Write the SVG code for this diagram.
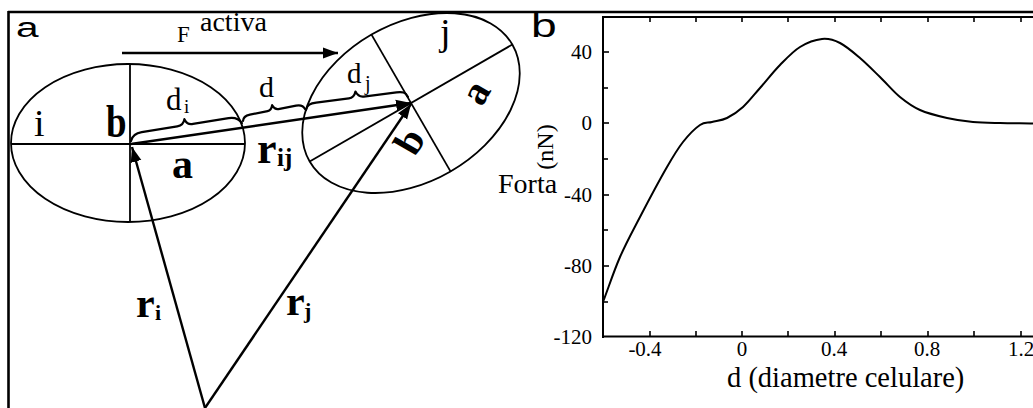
<svg xmlns="http://www.w3.org/2000/svg" width="1033" height="408" viewBox="0 0 1033 408">
<style>
.serif{font-family:"Liberation Serif","Times New Roman",serif;fill:#000}
.bold{font-weight:bold}
.sans{font-family:"Liberation Sans",Arial,sans-serif;fill:#000}
.ln{stroke:#000;stroke-width:2;fill:none}
.thin{stroke:#000;stroke-width:1.8;fill:none}
.arr{stroke:#000;stroke-width:2.4;fill:none;marker-end:url(#ah)}
.brace{stroke:#000;stroke-width:2.2;fill:none;stroke-linejoin:round;stroke-linecap:round}
.tick{stroke:#000;stroke-width:1.6}
.tl{font-size:21px}
</style>
<defs>
<marker id="ah" markerUnits="userSpaceOnUse" markerWidth="16" markerHeight="12" refX="15" refY="6" orient="auto">
<path d="M0,0.5 L15,6 L0,11.5 z" fill="#000"/>
</marker>
</defs>
<rect width="1033" height="408" fill="#fff"/>
<g id="frame">
<line x1="8" y1="12" x2="1033" y2="12" stroke="#000" stroke-width="2.4"/>
<line x1="8.5" y1="11" x2="8.5" y2="408" stroke="#000" stroke-width="2.6"/>
</g>
<g id="panel-label-a"><text class="sans" font-size="28" transform="translate(16,37) scale(1.45,1)">a</text></g>
<g id="cell-i">
<ellipse class="thin" cx="128" cy="143" rx="117" ry="79"/>
<line class="thin" x1="130" y1="64" x2="130" y2="222"/>
<line class="thin" x1="11" y1="144" x2="245" y2="144"/>
<text class="serif" x="34" y="136" font-size="38">i</text>
<text class="serif bold" font-size="37" transform="translate(106,137) scale(1,1.25)">b</text>
<text class="serif bold" x="172" y="178" font-size="42">a</text>
</g>
<g id="cell-j">
<g transform="translate(411,103) rotate(-30)">
<ellipse class="thin" cx="0" cy="0" rx="117" ry="79"/>
<line class="thin" x1="-117" y1="0" x2="117" y2="0"/>
<line class="thin" x1="0" y1="-79" x2="0" y2="79"/>
</g>
<text class="serif" x="440" y="45" font-size="38">j</text>
<text class="serif bold" font-size="40" text-anchor="middle" dominant-baseline="central" transform="translate(475,92) rotate(-60)">a</text>
<text class="serif bold" font-size="40" text-anchor="middle" dominant-baseline="central" transform="translate(409,141) rotate(-60)">b</text>
</g>
<g id="connectors">
<line class="arr" x1="122" y1="53" x2="338" y2="53"/>
<line class="arr" x1="131" y1="144" x2="411" y2="103"/>
<line class="arr" x1="205" y1="408" x2="132" y2="147"/>
<line class="arr" x1="205" y1="408" x2="411" y2="104"/>
<path class="brace" transform="translate(131,141) rotate(-9.2)" d="M0,0 C2,-5 6,-7 12,-7 L48,-7 C53,-7 55,-9 56.2,-13 C57.5,-9 59,-7 64,-7 L100,-7 C106,-7 110,-5 112.4,0"/>
<path class="brace" transform="translate(243,121) rotate(-10.9)" d="M0,0 C1,-4 4,-5 8,-5 L26,-5 C29,-5 30.5,-7 31.6,-10 C32.7,-7 34,-5 37,-5 L55,-5 C59,-5 62,-4 63.2,0"/>
<path class="brace" transform="translate(306,110) rotate(-7.3)" d="M0,0 C2,-5 5,-6 11,-6 L44,-6 C48,-6 50,-8 51.4,-12 C52.8,-8 55,-6 59,-6 L92,-6 C98,-6 101,-5 102.8,0"/>
</g>
<g id="labels-a">
<text class="serif" x="177" y="42" font-size="23">F</text>
<text class="serif" x="200" y="31" font-size="28">activa</text>
<text class="serif" x="166" y="110" font-size="31">d</text>
<text class="serif" x="184" y="113" font-size="19">i</text>
<text class="serif" x="259" y="97" font-size="30">d</text>
<text class="serif" x="347" y="83" font-size="29">d</text>
<text class="serif" x="365" y="90" font-size="20">j</text>
<text class="serif bold" x="257" y="163" font-size="44">r</text>
<text class="serif bold" x="277" y="166" font-size="25">ij</text>
<text class="serif bold" x="136" y="317" font-size="42">r</text>
<text class="serif bold" x="155" y="320" font-size="22">i</text>
<text class="serif bold" x="286" y="315" font-size="42">r</text>
<text class="serif bold" x="304" y="318" font-size="22">j</text>
</g>
<g id="panel-label-b"><text class="sans" font-size="33" transform="translate(531,37) scale(1.4,1)">b</text></g>
<g id="plot">
<line class="ln" x1="603" y1="16" x2="603" y2="338"/>
<line class="ln" x1="602" y1="17" x2="1033" y2="17"/>
<line class="ln" x1="602" y1="336.5" x2="1033" y2="336.5"/>
<g id="yticks">
<line class="tick" x1="603" y1="52" x2="609" y2="52"/>
<line class="tick" x1="603" y1="88" x2="608" y2="88"/>
<line class="tick" x1="603" y1="123" x2="609" y2="123"/>
<line class="tick" x1="603" y1="159" x2="608" y2="159"/>
<line class="tick" x1="603" y1="195" x2="609" y2="195"/>
<line class="tick" x1="603" y1="230" x2="608" y2="230"/>
<line class="tick" x1="603" y1="266" x2="609" y2="266"/>
<line class="tick" x1="603" y1="302" x2="608" y2="302"/>
</g>
<g id="xticks">
<path class="tick" d="M650,17v5M696,17v5M742,17v5M788,17v5M835,17v5M881,17v5M928,17v5M974,17v5M1021,17v5"/>
<path class="tick" d="M650,336v-5M696,336v-5M742,336v-5M788,336v-5M835,336v-5M881,336v-5M928,336v-5M974,336v-5M1021,336v-5"/>
</g>
<g id="ytick-labels" class="serif tl" text-anchor="end">
<text x="592" y="59">40</text>
<text x="592" y="130">0</text>
<text x="592" y="202">-40</text>
<text x="592" y="273">-80</text>
<text x="592" y="344">-120</text>
</g>
<g id="xtick-labels" class="serif tl" text-anchor="middle">
<text x="645" y="356">-0.4</text>
<text x="742" y="356">0</text>
<text x="834" y="356">0.4</text>
<text x="927" y="356">0.8</text>
<text x="1021" y="356">1.2</text>
</g>
<text class="serif" x="727" y="387" font-size="28.5">d (diametre celulare)</text>
<text class="serif" x="498" y="193" font-size="28">Forta</text>
<text class="serif" font-size="24" text-anchor="middle" transform="translate(553,147) rotate(-90)">(nN)</text>
<path id="curve" stroke="#000" stroke-width="2" fill="none" d="M603,302 C608.7,287 613.8,271.2 620,257 C626.2,242.8 632.2,232 640,217 C647.8,202 659.8,179.5 667,167 C674.2,154.5 677.5,149 683,142 C688.5,135 695.2,128.3 700,125 C704.8,121.7 707.5,123.2 712,122 C716.5,120.8 721.8,120.5 727,118 C732.2,115.5 737.5,112 743,107 C748.5,102 753.8,95 760,88 C766.2,81 773.3,71.8 780,65 C786.7,58.2 793,51.3 800,47 C807,42.7 815.3,39.7 822,39 C828.7,38.3 833.7,39.8 840,43 C846.3,46.2 853.3,52.3 860,58 C866.7,63.7 873.3,70.5 880,77 C886.7,83.5 893.3,91.5 900,97 C906.7,102.5 912.2,106.5 920,110 C927.8,113.5 938.2,116 947,118 C955.8,120 964.2,121.2 973,122 C981.8,122.8 990,122.8 1000,123 C1010,123.3 1022,123.3 1033,123.5"/>
</g>
</svg>
